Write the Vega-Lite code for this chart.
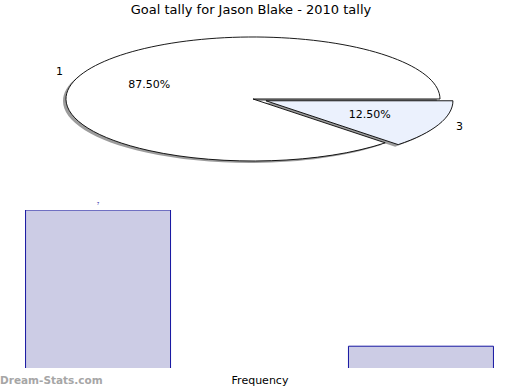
{
  "$schema": "https://vega.github.io/schema/vega-lite/v6.json",
  "padding": {"left": 0, "top": 4, "right": 0, "bottom": 0},
  "autosize": {"type": "pad"},
  "title": {"text": "Goal tally for Jason Blake - 2010 tally", "font": "DejaVu Sans", "fontSize": 13, "fontWeight": "normal", "color": "#000000", "anchor": "middle", "offset": 8},
  "datasets": {"goals": [{"goals": "1", "games": 7}, {"goals": "3", "games": 1}]},
  "spacing": 12,
  "config": {"view": {"stroke": null}, "font": "DejaVu Sans"},
  "vconcat": [
    {
      "width": 485,
      "height": 165,
      "data": {"name": "goals"},
      "transform": [
        {"joinaggregate": [{"op": "sum", "field": "games", "as": "total"}]},
        {"stack": "games", "groupby": [], "sort": [{"field": "goals", "order": "descending"}], "as": ["s0", "s1"]},
        {"calculate": "2*PI*datum.s0/datum.total", "as": "a0"},
        {"calculate": "2*PI*datum.s1/datum.total", "as": "a1"},
        {"calculate": "(datum.a0+datum.a1)/2", "as": "am"},
        {"calculate": "datum.goals=='3' ? 0.075 : 0", "as": "ex"},
        {"calculate": "datum.ex*cos(datum.am)", "as": "cx"},
        {"calculate": "datum.ex*sin(datum.am)", "as": "cy"},
        {"calculate": "'M0,0L'+format(cos(datum.a0),'.5f')+','+format(0.3316*sin(datum.a0),'.5f')+'A1,0.3316,0,'+(datum.a1-datum.a0>PI?1:0)+',1,'+format(cos(datum.a1),'.5f')+','+format(0.3316*sin(datum.a1),'.5f')+'Z'", "as": "wedge"},
        {"calculate": "format(datum.games/datum.total,'.2%')", "as": "pct"},
        {"calculate": "datum.cx+0.6*cos(datum.am)", "as": "px"},
        {"calculate": "datum.cy+0.6*sin(datum.am)", "as": "py"},
        {"calculate": "datum.cx+1.12*cos(datum.am)", "as": "lx"},
        {"calculate": "datum.cy+1.12*sin(datum.am)", "as": "ly"}
      ],
      "layer": [
        {
          "mark": {"type": "point", "filled": true, "fill": "#9c9c9c", "opacity": 1, "size": 139876, "xOffset": -3, "yOffset": 2},
          "encoding": {
            "x": {"field": "cx", "type": "quantitative", "scale": {"domain": [-1.262, 1.3316], "nice": false, "zero": false}, "axis": null},
            "y": {"field": "cy", "type": "quantitative", "scale": {"domain": [-1.1935, 1.4677], "reverse": true, "nice": false, "zero": false}, "axis": null},
            "shape": {"field": "wedge", "type": "nominal", "scale": null, "legend": null}
          }
        },
        {
          "mark": {"type": "point", "filled": true, "opacity": 1, "size": 139876, "stroke": "#000000", "strokeWidth": 0.9},
          "encoding": {
            "x": {"field": "cx", "type": "quantitative"},
            "y": {"field": "cy", "type": "quantitative"},
            "shape": {"field": "wedge", "type": "nominal", "scale": null, "legend": null},
            "color": {"field": "goals", "type": "nominal", "scale": {"domain": ["1", "3"], "range": ["#ffffff", "#ebf1fd"]}, "legend": null}
          }
        },
        {
          "mark": {"type": "text", "fontSize": 11, "color": "#000000", "align": "center", "baseline": "middle"},
          "encoding": {
            "x": {"field": "px", "type": "quantitative"},
            "y": {"field": "py", "type": "quantitative"},
            "text": {"field": "pct"}
          }
        },
        {
          "mark": {"type": "text", "fontSize": 11, "color": "#000000", "align": "center", "baseline": "middle"},
          "encoding": {
            "x": {"field": "lx", "type": "quantitative"},
            "y": {"field": "ly", "type": "quantitative"},
            "text": {"field": "goals"}
          }
        }
      ]
    },
    {
      "width": 485,
      "height": 158,
      "data": {"name": "goals"},
      "title": {"text": "Dream-Stats.com", "orient": "bottom", "anchor": "start", "dx": -17, "offset": -9, "font": "DejaVu Sans", "fontSize": 10.5, "fontWeight": "bold", "color": "#a6a6a6"},
      "encoding": {
        "x": {"field": "goals", "type": "ordinal", "scale": {"domain": ["1", "2", "3"], "paddingInner": 0.102, "paddingOuter": 0.053}, "axis": {"title": "Frequency", "labels": false, "ticks": false, "domain": false, "titleFont": "DejaVu Sans", "titleFontSize": 11, "titleFontWeight": "normal", "titleColor": "#000000", "titlePadding": 6}},
        "y": {"field": "games", "type": "quantitative", "scale": {"domain": [0.04, 7], "nice": false, "zero": false}, "axis": null}
      },
      "layer": [
        {"mark": {"type": "bar", "fill": "#ccccE5", "stroke": "#1414a0", "strokeWidth": 1, "clip": true}, "encoding": {"y2": {"datum": 0}}},
        {"mark": {"type": "text", "fontSize": 4, "color": "#1414a0", "baseline": "bottom", "dy": -4}, "encoding": {"text": {"field": "games"}, "opacity": {"condition": {"test": "datum.games > 5", "value": 1}, "value": 0}}}
      ]
    }
  ]
}
